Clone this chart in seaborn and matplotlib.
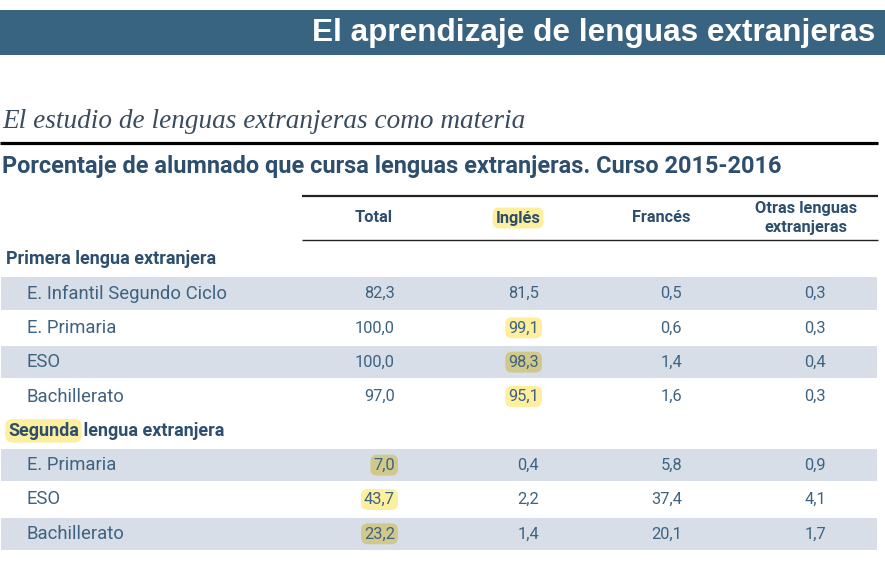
import numpy as np
import matplotlib.pyplot as plt
from matplotlib.colors import ListedColormap
import seaborn as sns

banner_title = "El aprendizaje de lenguas extranjeras"
subtitle = "El estudio de lenguas extranjeras como materia"
table_title = "Porcentaje de alumnado que cursa lenguas extranjeras. Curso 2015-2016"

columns = ["Total", "Inglés", "Francés", "Otras lenguas\nextranjeras"]

first_section = "Primera lengua extranjera"
first_levels = ["E. Infantil Segundo Ciclo", "E. Primaria", "ESO", "Bachillerato"]
first_total = [82.3, 100.0, 100.0, 97.0]
first_ingles = [81.5, 99.1, 98.3, 95.1]
first_frances = [0.5, 0.6, 1.4, 1.6]
first_otras = [0.3, 0.3, 0.4, 0.3]

second_section_mark = "Segunda"
second_section_rest = " lengua extranjera"
second_levels = ["E. Primaria", "ESO", "Bachillerato"]
second_total = [7.0, 43.7, 23.2]
second_ingles = [0.4, 2.2, 1.4]
second_frances = [5.8, 37.4, 20.1]
second_otras = [0.9, 4.1, 1.7]

# cells with a marker highlight: (section, row, column)
marked = [(0, 1, 1), (0, 2, 1), (0, 3, 1), (1, 0, 0), (1, 1, 0), (1, 2, 0)]

BLUE = "#386381"
STRIPE = "#d7dee7"
YELLOW = "#fdef9d"
OLIVE = "#d0c98b"
DARK = "#2d4e6d"
TXT = "#3e6281"

sns.set_theme(style="white")
plt.rcParams["font.family"] = ["Roboto", "DejaVu Sans"]

W, H = 885, 566
fig = plt.figure(figsize=(W / 100, H / 100), dpi=100)

# page overlay in pixel units
ax = fig.add_axes([0, 0, 1, 1])
ax.set_xlim(0, W)
ax.set_ylim(H, 0)
ax.axis("off")

ax.axhspan(10, 55, xmin=0, xmax=1, color=BLUE, lw=0)
ax.text(875, 33, banner_title, ha="right", va="center", color="white",
        fontsize=22.7, fontweight="bold", family=["Liberation Sans", "DejaVu Sans"])
ax.text(2, 122, subtitle, ha="left", va="center", color="#3a4b5e",
        fontsize=19.6, fontstyle="italic", family=["Liberation Serif", "DejaVu Serif"])
ax.plot([0, 878], [143, 143], color="black", lw=2.3, solid_capstyle="butt")
ax.text(2, 167, table_title, ha="left", va="center", color=DARK,
        fontsize=16.95, fontweight="bold")

# column header block
ax.plot([302, 878], [196, 196], color="#222222", lw=1.6, solid_capstyle="butt")
ax.plot([302, 878], [240, 240], color="#222222", lw=1.0, solid_capstyle="butt")
col_centers = [374, 518, 661, 806]
for j, (name, cx) in enumerate(zip(columns, col_centers)):
    box = None
    if j == 1:
        box = dict(boxstyle="round,pad=0.18,rounding_size=0.4", fc=YELLOW, ec="none")
    ax.text(cx, 218, name, ha="center", va="center", color=DARK, fontsize=11.8,
            fontweight="bold", linespacing=1.3, bbox=box)

# body rows
rows = [("section", 0)]
for i in range(len(first_levels)):
    rows.append(("data", 0, i))
rows.append(("section", 1))
for i in range(len(second_levels)):
    rows.append(("data", 1, i))

stripe = np.array([[1 if r[0] == "data" and r[2] % 2 == 0 else 0] for r in rows])

body = fig.add_axes([0, (H - 551) / H, 878 / W, (551 - 242) / H])
sns.heatmap(stripe, ax=body, cmap=ListedColormap(["white", STRIPE]), cbar=False,
            xticklabels=False, yticklabels=False, linewidths=1.2, linecolor="white",
            vmin=0, vmax=1)
tr = body.get_yaxis_transform()
bw = 878

section_data = [
    (first_levels, [first_total, first_ingles, first_frances, first_otras]),
    (second_levels, [second_total, second_ingles, second_frances, second_otras]),
]
value_right = [395, 539, 682, 826]

for k, r in enumerate(rows):
    yc = k + 0.5
    if r[0] == "section":
        if r[1] == 0:
            body.text(6 / bw, yc, first_section, transform=tr, ha="left", va="center",
                      color=DARK, fontsize=13, fontweight="bold")
        else:
            t1 = body.text(8 / bw, yc, second_section_mark, transform=tr, ha="left",
                           va="center", color=DARK, fontsize=13, fontweight="bold",
                           bbox=dict(boxstyle="round,pad=0.15,rounding_size=0.4",
                                     fc=YELLOW, ec="none"))
            body.annotate(second_section_rest, xy=(1, 0.5), xycoords=t1, ha="left",
                          va="center", color=DARK, fontsize=13, fontweight="bold")
        continue
    s, i = r[1], r[2]
    levels, cols = section_data[s]
    body.text(27 / bw, yc, levels[i], transform=tr, ha="left", va="center",
              color=TXT, fontsize=13.3)
    for j, vals in enumerate(cols):
        label = f"{vals[i]:.1f}".replace(".", ",")
        box = None
        if (s, i, j) in marked:
            fc = OLIVE if stripe[k, 0] == 1 else YELLOW
            box = dict(boxstyle="round,pad=0.18,rounding_size=0.4", fc=fc, ec="none")
        body.text(value_right[j] / bw, yc, label, transform=tr, ha="right", va="center",
                  color=TXT, fontsize=11.8, bbox=box)

fig.savefig("out.png", dpi=100)
